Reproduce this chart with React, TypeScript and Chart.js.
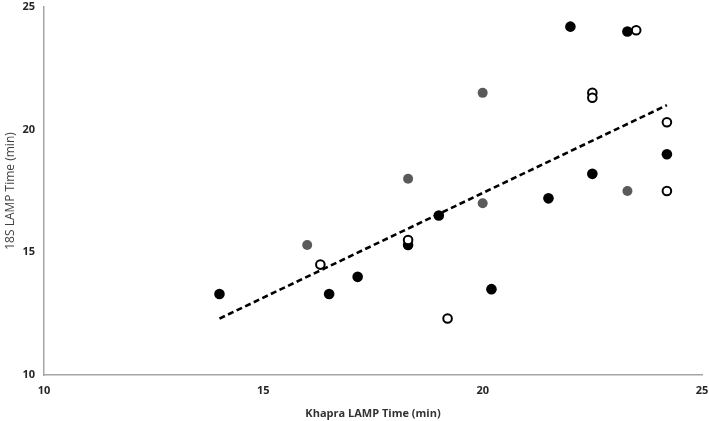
import React, { useEffect, useRef } from "react";
import { Chart, registerables } from "chart.js";

Chart.register(...registerables);

const xTitle = "Khapra LAMP Time (min)";
const yTitle = "18S LAMP Time (min)";
const axisMin = 10;
const axisMax = 25;
const axisStep = 5;

const blackX = [14.0, 16.5, 17.15, 18.3, 19.0, 20.2, 21.5, 22.5, 24.2, 22.0, 23.3];
const blackY = [13.3, 13.3, 14.0, 15.3, 16.5, 13.5, 17.2, 18.2, 19.0, 24.2, 24.0];

const grayX = [16.0, 18.3, 20.0, 20.0, 23.3];
const grayY = [15.3, 18.0, 21.5, 17.0, 17.5];

const openX = [16.3, 18.3, 19.2, 22.5, 22.5, 23.5, 24.2, 24.2];
const openY = [14.5, 15.5, 12.3, 21.5, 21.3, 24.05, 20.3, 17.5];

const trendX = [14.0, 24.2];
const trendY = [12.3, 21.0];

const pts = (xs: number[], ys: number[]) => xs.map((x, i) => ({ x, y: ys[i] }));

const FONT = "'Open Sans', 'Liberation Sans', sans-serif";

export default function App() {
  const ref = useRef<HTMLCanvasElement | null>(null);
  useEffect(() => {
    if (!ref.current) return;
    const chart = new Chart(ref.current, {
      type: "scatter",
      data: {
        datasets: [
          {
            label: "trend",
            data: pts(trendX, trendY),
            showLine: true,
            borderColor: "#000",
            borderWidth: 2.6,
            borderDash: [6, 3.5],
            pointRadius: 0,
            fill: false,
            order: 4,
          },
          {
            label: "gray",
            data: pts(grayX, grayY),
            backgroundColor: "#5a5a5a",
            borderColor: "#5a5a5a",
            pointRadius: 5,
            borderWidth: 0,
            order: 3,
          },
          {
            label: "black",
            data: pts(blackX, blackY),
            backgroundColor: "#000",
            borderColor: "#000",
            pointRadius: 5.3,
            borderWidth: 0,
            order: 2,
          },
          {
            label: "open",
            data: pts(openX, openY),
            backgroundColor: "#fff",
            borderColor: "#000",
            pointRadius: 4.3,
            borderWidth: 2,
            order: 1,
          },
        ],
      },
      options: {
        animation: false,
        responsive: false,
        devicePixelRatio: 1,
        layout: { padding: { top: 7, right: 7, left: 0, bottom: 0 } },
        plugins: { legend: { display: false }, tooltip: { enabled: false } },
        scales: {
          x: {
            type: "linear",
            min: axisMin,
            max: axisMax,
            afterFit: (s: any) => {
              s.height = 46;
              s.paddingLeft = 0;
              s.paddingRight = 0;
            },
            ticks: {
              stepSize: axisStep,
              padding: 9,
              color: "#262626",
              font: { family: FONT, size: 11, weight: "bold" },
              maxRotation: 0,
            },
            grid: { display: false, drawTicks: false },
            border: { display: true, color: "#a6a6a6", width: 1.5 },
            title: {
              display: true,
              text: xTitle,
              color: "#333",
              font: { family: FONT, size: 11, weight: "bold" },
              padding: { top: 0, bottom: 1 },
            },
          },
          y: {
            type: "linear",
            min: axisMin,
            max: axisMax,
            afterFit: (s: any) => {
              s.width = 44;
              s.paddingTop = 0;
              s.paddingBottom = 0;
            },
            ticks: {
              stepSize: axisStep,
              padding: 9,
              color: "#262626",
              font: { family: FONT, size: 11, weight: "bold" },
            },
            grid: { display: false, drawTicks: false },
            border: { display: true, color: "#a6a6a6", width: 1.5 },
            title: {
              display: true,
              text: yTitle,
              color: "#404040",
              font: { family: FONT, size: 12, weight: "normal" },
              padding: { top: 3, bottom: 0 },
            },
          },
        },
      },
    });
    return () => chart.destroy();
  }, []);
  return (
    <div style={{ position: "fixed", left: 0, top: 0, width: 709, height: 421, background: "#fff" }}>
      <canvas ref={ref} width={709} height={421} style={{ display: "block" }} />
    </div>
  );
}
